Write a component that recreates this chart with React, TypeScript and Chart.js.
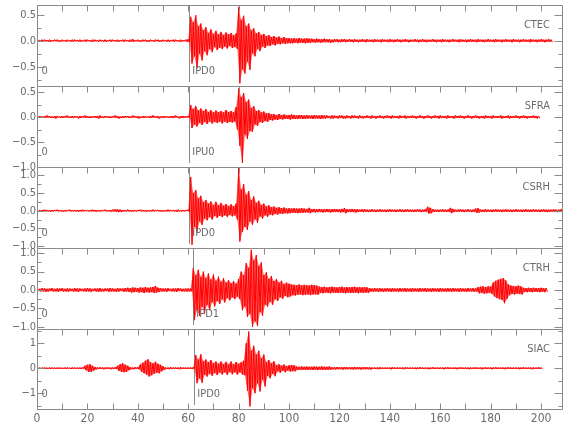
import React, { useEffect, useRef } from 'react';
import { Chart, registerables } from 'chart.js';
Chart.register(...registerables);

// ---- data ----
const stations = ['CTEC', 'SFRA', 'CSRH', 'CTRH', 'SIAC'];
const pickLabels = ['IPD0', 'IPU0', 'IPD0', 'IPD1', 'IPD0'];
const pickTimes = [60.4, 60.4, 60.4, 62.0, 62.4];
const originTime = 0;
const originLabel = '0';
const yMin = [-0.871, -1.0, -1.05, -1.06, -1.63];
const yMax = [0.687, 0.62, 1.23, 1.14, 1.57];
const yStep = [0.5, 0.5, 0.5, 0.5, 1];
const yMinorStep = [0.25, 0.25, 0.25, 0.25, 0.5];
const yDecimals = [1, 1, 1, 1, 0];
const xMin = 0;
const xMax = 208.7;
const xLabelStep = 20;
const xTickStep = 10;

// per-second max (Hi) and min magnitude (Lo) of each trace, in hundredths, bins start at t = 0 s
const ctecHi = [
  2,1,2,2,1,2,1,2,2,1, 2,1,2,1,2,2,1,2,1,2, 2,1,2,2,1,2,1,2,1,2, 2,1,2,1,2,2,1,2,3,1,
  2,1,2,2,1,2,1,2,2,1, 2,1,2,1,2,2,1,2,1,2, 3,46,35,49,28,33,20,26,15,22, 13,19,12,17,11,16,12,15,10,14,
  65,40,48,28,33,20,24,14,17,11, 13,9,11,7,9,6,8,5,7,5, 5,4,5,4,5,4,4,5,4,4, 3,4,3,3,4,3,3,2,3,3,
  2,3,3,2,3,2,3,2,2,3, 2,3,2,2,3,2,2,3,2,2, 3,2,2,3,2,2,3,2,2,2, 3,2,2,3,2,2,2,3,2,2,
  2,3,2,2,2,3,2,2,3,2, 2,2,3,2,2,3,2,2,2,3, 2,2,3,2,2,2,3,2,2,3, 2,2,2,3,2,2,3,2,2,2,
  3,2,2,3,2,
];
const ctecLo = [
  1,2,2,1,2,2,1,1,2,2, 1,2,1,2,2,1,2,2,1,2, 1,2,2,1,2,1,2,2,1,2, 1,2,2,1,2,1,2,2,2,1,
  2,2,1,2,2,1,2,1,2,2, 1,2,2,1,2,1,2,2,1,2, 3,44,30,53,25,38,20,28,16,22, 12,18,13,16,11,15,10,14,12,16,
  82,55,63,40,56,24,30,16,20,11, 14,9,10,7,9,6,7,5,6,5, 5,5,4,5,4,4,5,4,4,3, 4,3,4,3,3,3,4,3,2,3,
  3,2,3,2,2,3,2,3,2,2, 3,2,2,3,2,2,3,2,2,3, 2,3,2,2,3,2,2,3,2,2, 2,3,2,2,3,2,2,2,3,2,
  3,2,2,3,2,2,2,3,2,2, 3,2,2,2,3,2,2,3,2,2, 2,3,2,2,3,2,2,2,3,2, 2,3,2,2,2,3,2,2,3,2,
  2,3,2,2,3,
];
const sfraHi = [
  2,2,1,2,3,2,1,2,2,1, 2,2,3,1,2,2,1,2,2,3, 2,1,2,2,2,3,1,2,2,1, 2,3,2,1,2,2,2,1,3,2,
  2,1,2,2,1,2,3,2,2,1, 2,2,1,2,2,3,1,2,2,2, 2,24,16,22,13,17,12,16,10,14, 9,13,10,12,9,14,10,12,9,20,
  57,40,48,30,35,18,22,12,14,9, 11,7,8,5,6,4,6,4,5,4, 4,5,4,3,4,4,3,4,3,3, 4,3,3,4,3,3,2,3,3,2,
  3,3,2,3,2,3,3,2,3,2, 2,3,2,3,2,2,3,2,2,3, 2,3,2,2,3,2,3,2,2,3, 2,2,3,2,2,3,2,2,3,2,
  3,2,2,3,2,2,3,2,3,2, 2,3,2,2,3,2,2,2,3,2, 2,3,2,2,3,2,2,3,2,2, 3,2,2,3,2,2,2,3,2,2,
];
const sfraLo = [
  2,1,2,2,1,2,2,3,1,2, 2,1,2,2,2,1,3,2,1,2, 2,2,1,2,3,2,2,1,2,2, 1,2,3,2,2,1,2,2,1,2,
  3,2,2,1,2,2,1,2,3,2, 2,1,2,2,2,1,3,2,2,1, 2,22,15,19,12,16,10,14,9,13, 10,12,9,13,9,12,10,11,9,25,
  58,92,35,44,28,30,15,18,10,12, 8,10,6,7,5,6,4,5,4,4, 5,4,4,4,3,4,4,3,3,4, 3,3,4,3,3,2,3,3,2,3,
  2,3,3,2,3,2,2,3,2,3, 2,2,3,2,3,2,2,3,2,2, 3,2,2,3,2,2,3,2,2,2, 3,2,2,3,2,2,3,2,2,3,
  2,2,3,2,2,3,2,2,2,3, 2,2,3,2,2,3,2,3,2,2, 3,2,2,2,3,2,2,3,2,2, 2,3,2,2,3,2,2,2,3,2,
];
const csrhHi = [
  2,1,2,3,2,1,2,2,3,2, 1,2,2,3,1,2,2,2,3,2, 1,2,3,2,2,1,2,3,2,2, 3,4,4,3,2,2,3,2,1,2,
  2,3,2,2,1,2,3,2,2,2, 1,2,3,2,2,2,3,1,2,2, 3,95,50,58,35,42,24,30,20,26, 16,25,15,22,14,19,13,18,12,20,
  120,60,75,45,55,30,40,22,28,16, 20,12,15,10,12,8,10,7,9,6, 7,6,7,6,6,7,6,5,8,4, 5,4,5,4,4,5,4,4,5,4,
  4,5,7,4,4,5,4,4,3,4, 4,3,3,4,3,3,4,3,3,3, 4,3,3,3,4,3,3,4,3,3, 3,4,3,3,4,11,8,4,3,3,
  3,4,3,3,8,5,3,3,4,3, 3,4,3,3,6,7,3,3,4,3, 3,3,4,3,3,3,4,3,3,3, 4,3,3,3,4,3,3,4,3,3,
  3,4,3,3,3,4,3,3,4,3,
];
const csrhLo = [
  2,2,1,2,2,3,2,1,2,2, 3,2,1,2,2,2,3,2,2,1, 2,2,2,3,2,2,1,2,2,3, 2,3,4,4,2,2,2,3,2,2,
  1,2,2,3,2,2,2,1,2,3, 2,2,2,1,2,3,2,2,2,1, 3,96,45,59,30,40,22,27,18,25, 15,20,14,18,13,17,12,16,13,25,
  87,60,45,54,30,40,24,34,16,22, 13,17,11,13,9,11,8,9,7,8, 7,6,6,7,6,6,5,5,7,4, 5,4,4,5,4,4,5,4,4,4,
  5,4,7,4,4,4,5,4,3,4, 3,4,3,3,4,3,3,3,4,3, 3,3,4,3,3,4,3,3,3,4, 3,3,4,3,3,8,7,3,3,4,
  3,3,4,3,7,4,3,3,3,4, 3,3,4,3,6,5,3,4,3,3, 4,3,3,3,4,3,3,3,4,3, 3,3,4,3,3,4,3,3,3,4,
  3,3,4,3,3,3,4,3,3,4,
];
const ctrhHi = [
  4,3,5,4,3,4,5,3,4,4, 5,3,4,4,3,5,4,4,3,4, 5,4,3,4,4,5,3,4,4,5, 4,3,5,4,4,5,6,5,7,6,
  5,7,6,8,6,7,8,11,6,5, 4,4,5,3,4,4,5,4,3,4, 4,4,59,40,55,35,50,32,45,28, 42,25,36,22,32,20,27,18,24,17,
  30,50,40,73,60,109,80,95,65,75, 40,48,30,38,24,30,20,25,16,20, 17,15,14,13,15,12,14,13,12,14, 13,12,9,8,9,7,8,9,8,7,
  8,9,7,8,7,8,9,7,8,7, 8,7,5,4,5,4,5,4,4,5, 4,5,4,4,5,4,5,4,4,5, 4,4,5,4,5,4,4,5,4,4,
  5,4,4,5,4,5,4,4,5,4, 4,5,4,5,4,8,9,10,8,10, 9,20,25,28,30,32,26,15,12,11, 10,12,10,6,5,6,5,6,5,5,
  6,5,5,
];
const ctrhLo = [
  3,4,4,5,4,3,4,4,5,3, 4,4,5,3,4,4,5,3,4,4, 4,5,3,4,5,4,4,3,5,4, 4,5,4,3,5,4,5,7,6,5,
  7,6,8,6,7,6,8,7,5,4, 4,5,3,4,4,5,3,4,4,4, 4,4,82,55,70,45,64,40,55,33, 45,30,38,25,34,22,28,20,25,18,
  25,55,45,73,65,100,85,98,60,70, 40,45,32,40,25,30,20,24,16,20, 18,14,15,13,12,14,13,12,14,12, 12,13,8,9,7,8,9,7,8,8,
  7,8,9,7,8,8,7,9,7,8, 7,8,4,5,4,5,4,5,4,4, 5,4,4,5,4,4,5,4,5,4, 4,5,4,4,5,4,5,4,4,5,
  4,4,5,4,5,4,4,5,4,4, 5,4,4,5,4,9,8,10,9,8, 10,18,22,25,27,36,24,14,11,12, 10,11,12,5,6,5,6,5,5,6,
  5,6,5,
];
const siacHi = [
  3,2,3,3,2,3,3,2,3,3, 2,3,3,2,3,3,2,3,3,10, 14,16,10,5,3,4,3,3,4,3, 3,4,10,16,20,14,10,4,3,4,
  4,15,22,30,36,25,20,26,18,14, 8,3,3,4,3,3,3,4,3,3, 3,3,4,53,35,56,28,35,24,33, 20,27,18,27,17,26,16,27,15,25,
  18,24,30,100,147,70,90,55,70,40, 55,25,33,20,28,12,16,10,15,9, 12,13,12,7,6,7,6,7,6,6, 7,6,6,7,6,6,7,4,4,5,
  4,4,5,4,4,4,5,4,4,4, 5,4,4,3,3,3,4,3,3,3, 3,4,3,3,3,3,4,3,3,3, 3,3,4,3,3,3,3,4,3,3,
  3,3,3,4,3,3,3,3,4,3, 3,3,3,3,4,3,3,3,4,3, 3,3,4,3,3,3,3,4,3,3, 3,3,3,4,3,3,3,3,3,4,
  3,
];
const siacLo = [
  2,3,3,2,3,3,2,3,3,2, 3,3,2,3,3,2,3,3,2,8, 15,14,9,5,3,3,4,3,3,4, 3,3,10,14,16,15,8,4,4,3,
  4,14,20,25,33,28,22,18,20,12, 7,3,4,3,3,3,4,3,3,3, 3,3,4,60,40,58,26,33,22,30, 19,27,17,25,16,27,15,24,16,26,
  16,25,28,90,153,80,100,60,93,45, 73,30,40,22,32,12,18,10,16,9, 13,12,12,6,7,6,7,6,6,7, 6,7,6,6,7,6,6,4,5,4,
  4,5,4,4,4,5,4,4,5,4, 4,4,5,3,3,4,3,3,3,3, 4,3,3,3,3,4,3,3,3,3, 4,3,3,3,3,4,3,3,3,3,
  3,4,3,3,3,3,4,3,3,3, 3,4,3,3,3,3,4,3,3,3, 4,3,3,3,3,4,3,3,3,3, 3,4,3,3,3,3,4,3,3,3,
  3,
];
const traceHi = [ctecHi, sfraHi, csrhHi, ctrhHi, siacHi];
const traceLo = [ctecLo, sfraLo, csrhLo, ctrhLo, siacLo];

// ---- layout / style ----
const W = 580;
const H = 440;
const PANEL_EDGES = [5, 86, 167, 248, 329, 409];
const PLOT_LEFT = 37;
const PLOT_RIGHT = 563;
const FONT_FAMILY = '"Liberation Sans Narrow", "DejaVu Sans Condensed", "Arial Narrow", sans-serif';
const TEXT = '#6a6a6a';
const FRAME = '#8a8a8a';
const TRACE = '#ff0000';

function tracePoints(i: number) {
  const hi = traceHi[i];
  const lo = traceLo[i];
  const n = Math.min(hi.length, lo.length);
  const pts: { x: number; y: number }[] = [];
  for (let k = 0; k < n; k++) {
    pts.push({ x: k, y: hi[k] / 100 });
    pts.push({ x: k + 0.5, y: -lo[k] / 100 });
  }
  return pts;
}
function upperPoints(i: number) {
  const n = Math.min(traceHi[i].length, traceLo[i].length);
  return traceHi[i].slice(0, n).map((v, k) => ({ x: k, y: v / 100 }));
}
function lowerPoints(i: number) {
  const n = Math.min(traceHi[i].length, traceLo[i].length);
  return traceLo[i].slice(0, n).map((v, k) => ({ x: k + 0.5, y: -v / 100 }));
}

function fmtY(v: number, dec: number) {
  return Number(v).toFixed(dec).replace('-', '\u2212');
}

function decoPlugin(i: number, isLast: boolean) {
  return {
    id: 'deco' + i,
    beforeDatasetsDraw(chart: any) {
      const { ctx, chartArea: a, scales } = chart;
      const x = scales.x;
      const px = Math.round(x.getPixelForValue(pickTimes[i])) + 0.5;
      ctx.save();
      ctx.strokeStyle = FRAME;
      ctx.lineWidth = 1;
      ctx.beginPath();
      ctx.moveTo(px, a.top);
      ctx.lineTo(px, a.bottom - 4);
      ctx.stroke();
      ctx.restore();
    },
    afterDatasetsDraw(chart: any) {
      const { ctx, chartArea: a, scales } = chart;
      const x = scales.x;
      const y = scales.y;
      ctx.save();
      ctx.strokeStyle = FRAME;
      ctx.lineWidth = 1;
      const L = Math.round(a.left) + 0.5;
      const R = Math.round(a.right) - 0.5;
      const T = Math.round(a.top) + 0.5;
      const B = Math.round(a.bottom) + 0.5;
      ctx.beginPath();
      ctx.moveTo(L, T); ctx.lineTo(R, T); ctx.lineTo(R, B); ctx.lineTo(L, B); ctx.closePath();
      ctx.stroke();
      ctx.beginPath();
      for (let v = xMin; v <= xMax + 1e-9; v += xTickStep) {
        const p = Math.round(x.getPixelForValue(v)) + 0.5;
        ctx.moveTo(p, T); ctx.lineTo(p, T + 6);
        if (isLast) { ctx.moveTo(p, B); ctx.lineTo(p, B - 6); }
      }
      const majors = y.ticks.map((t: any) => t.value);
      const minor = yMinorStep[i];
      const start = Math.ceil(yMin[i] / minor - 1e-9) * minor;
      for (let v = start; v <= yMax[i] + 1e-9; v += minor) {
        const isMajor = majors.some((m: number) => Math.abs(m - v) < 1e-6);
        const p = Math.round(y.getPixelForValue(v)) + 0.5;
        ctx.moveTo(L, p); ctx.lineTo(L + (isMajor ? 7 : 4), p);
        ctx.moveTo(R, p); ctx.lineTo(R - (isMajor ? 8 : 4), p);
      }
      ctx.stroke();
      ctx.fillStyle = TEXT;
      ctx.font = '11px ' + FONT_FAMILY;
      ctx.textBaseline = 'middle';
      ctx.textAlign = 'right';
      ctx.fillText(stations[i], a.right - 13, a.top + 20);
      ctx.textAlign = 'left';
      ctx.fillText(originLabel, x.getPixelForValue(originTime) + 4.5, a.bottom - 15);
      ctx.fillText(pickLabels[i], x.getPixelForValue(pickTimes[i]) + 3, a.bottom - 15);
      ctx.restore();
    },
  };
}

function makeConfig(i: number): any {
  const isLast = i === 4;
  const top = PANEL_EDGES[i];
  const bottom = PANEL_EDGES[i + 1];
  const font = { family: FONT_FAMILY, size: 11 };
  return {
    type: 'line',
    data: {
      datasets: [
        {
          data: tracePoints(i),
          borderColor: TRACE,
          borderWidth: 1,
          pointRadius: 0,
          tension: 0,
          fill: false,
        },
        {
          data: upperPoints(i),
          borderWidth: 0,
          borderColor: 'rgba(0,0,0,0)',
          backgroundColor: 'rgba(255,30,30,0.65)',
          pointRadius: 0,
          tension: 0,
          fill: '+1',
        },
        {
          data: lowerPoints(i),
          borderWidth: 0,
          borderColor: 'rgba(0,0,0,0)',
          pointRadius: 0,
          tension: 0,
          fill: false,
        },
      ],
    },
    options: {
      animation: false,
      responsive: false,
      maintainAspectRatio: false,
      events: [],
      layout: {
        padding: { top, left: 0, right: W - PLOT_RIGHT, bottom: isLast ? 0 : H - bottom },
      },
      plugins: { legend: { display: false }, tooltip: { enabled: false } },
      scales: {
        x: {
          type: 'linear',
          min: xMin,
          max: xMax,
          display: isLast,
          grid: { display: false, drawTicks: false },
          border: { display: false },
          ticks: {
            stepSize: xLabelStep,
            includeBounds: false,
            autoSkip: false,
            maxRotation: 0,
            padding: 3,
            color: TEXT,
            font: { family: FONT_FAMILY, size: 12 },
            callback: (v: number) => String(Math.round(v)),
          },
          afterFit: (s: any) => {
            if (isLast) s.height = H - PANEL_EDGES[5];
            s.paddingLeft = 0;
            s.paddingRight = 0;
          },
        },
        y: {
          type: 'linear',
          min: yMin[i],
          max: yMax[i],
          grid: { display: false, drawTicks: false },
          border: { display: false },
          ticks: {
            stepSize: yStep[i],
            includeBounds: false,
            autoSkip: false,
            padding: 1,
            color: TEXT,
            font,
            callback: (v: number) => fmtY(v, yDecimals[i]),
          },
          afterFit: (s: any) => {
            s.width = PLOT_LEFT;
            s.paddingTop = 0;
            s.paddingBottom = 0;
          },
        },
      },
    },
    plugins: [decoPlugin(i, isLast)],
  };
}

function Panel({ index }: { index: number }) {
  const ref = useRef<HTMLCanvasElement | null>(null);
  useEffect(() => {
    if (!ref.current) return;
    const chart = new Chart(ref.current, makeConfig(index));
    return () => chart.destroy();
  }, [index]);
  return (
    <canvas
      ref={ref}
      width={W}
      height={H}
      style={{ position: 'absolute', left: 0, top: 0, width: W, height: H }}
    />
  );
}

export default function App() {
  return (
    <div style={{ position: 'absolute', left: 0, top: 0, width: W, height: H, background: '#fff' }}>
      {stations.map((_, i) => (
        <Panel key={i} index={i} />
      ))}
    </div>
  );
}
